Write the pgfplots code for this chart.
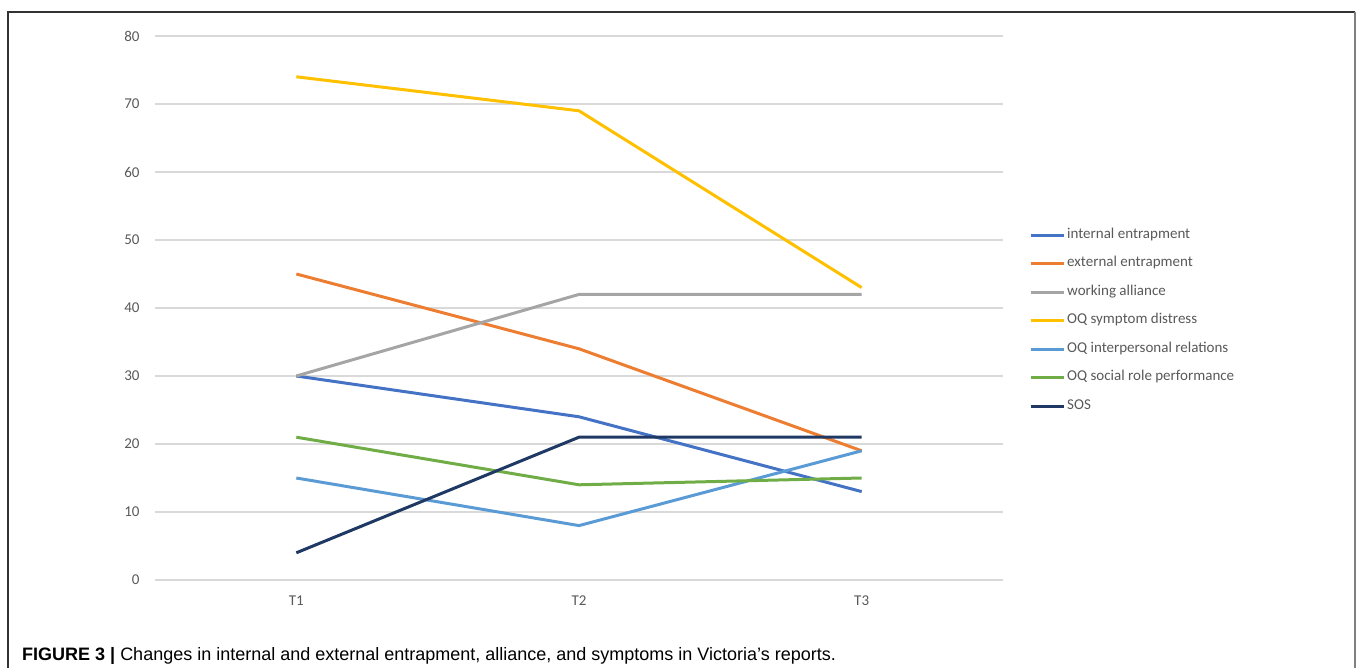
\documentclass[border=0pt]{standalone}
\usepackage{fontspec}
\setmainfont{Liberation Sans}
\newfontfamily\chartfont{Carlito}
\usepackage{pgfplots}
\pgfplotsset{compat=1.18}
\definecolor{cInt}{HTML}{4472C4}
\definecolor{cExt}{HTML}{ED7D31}
\definecolor{cWA}{HTML}{A5A5A5}
\definecolor{cSD}{HTML}{FFC000}
\definecolor{cIR}{HTML}{5B9BD5}
\definecolor{cSR}{HTML}{70AD47}
\definecolor{cSOS}{HTML}{1F3864}
\definecolor{gridgray}{HTML}{D9D9D9}
\definecolor{labelgray}{HTML}{595959}
\begin{document}
\begin{tikzpicture}[x=1pt,y=1pt]
\path (0,0) rectangle (1360,668);
\draw[black!80, line width=1.4pt] (8,0) -- (8,656) -- (1355,656);
\draw[gray, line width=2pt] (1355,656) -- (1355,0);
\begin{axis}[
  at={(155pt,88pt)}, anchor=south west,
  scale only axis, width=848pt, height=544pt,
  xmin=-0.5, xmax=2.5, ymin=0, ymax=80,
  ytick={0,10,...,80},
  xtick={0,1,2}, xticklabels={T1,T2,T3},
  axis line style={draw=none},
  major tick length=0pt,
  ymajorgrids,
  grid style={color=gridgray, line width=1.2pt},
  /pgf/number format/assume math mode=true,
  tick label style={font=\chartfont\fontsize{15}{17}\selectfont, text=labelgray},
  yticklabel style={xshift=-12pt},
  xticklabel style={yshift=-12pt},
  clip=false,
  legend cell align=left,
  legend image code/.code={\draw[#1, line width=3pt] (0pt,0pt) -- (33pt,0pt);},
  legend style={draw=none, fill=none, at={(1.0271,0.649)}, anchor=north west,
    font=\chartfont\fontsize{15}{17}\selectfont, text=labelgray,
    nodes={inner sep=0pt, text height=9pt, text depth=3pt},
    row sep=16.5pt, column sep=2pt},
  every axis plot/.append style={line width=3pt, line join=round},
]
\addplot[cInt] coordinates {(0,30) (1,24) (2,13)};
\addlegendentry{internal entrapment}
\addplot[cExt] coordinates {(0,45) (1,34) (2,19)};
\addlegendentry{external entrapment}
\addplot[cWA] coordinates {(0,30) (1,42) (2,42)};
\addlegendentry{working alliance}
\addplot[cSD] coordinates {(0,74) (1,69) (2,43)};
\addlegendentry{OQ symptom distress}
\addplot[cIR] coordinates {(0,15) (1,8) (2,19)};
\addlegendentry{OQ interpersonal relations}
\addplot[cSR] coordinates {(0,21) (1,14) (2,15)};
\addlegendentry{OQ social role performance}
\addplot[cSOS] coordinates {(0,4) (1,21) (2,21)};
\addlegendentry{SOS}
\end{axis}
\node[anchor=base west, inner sep=0pt, font=\fontsize{18}{20}\selectfont] at (22,7)
  {\textbf{FIGURE 3 |} Changes in internal and external entrapment, alliance, and symptoms in Victoria’s reports.};
\end{tikzpicture}
\end{document}
